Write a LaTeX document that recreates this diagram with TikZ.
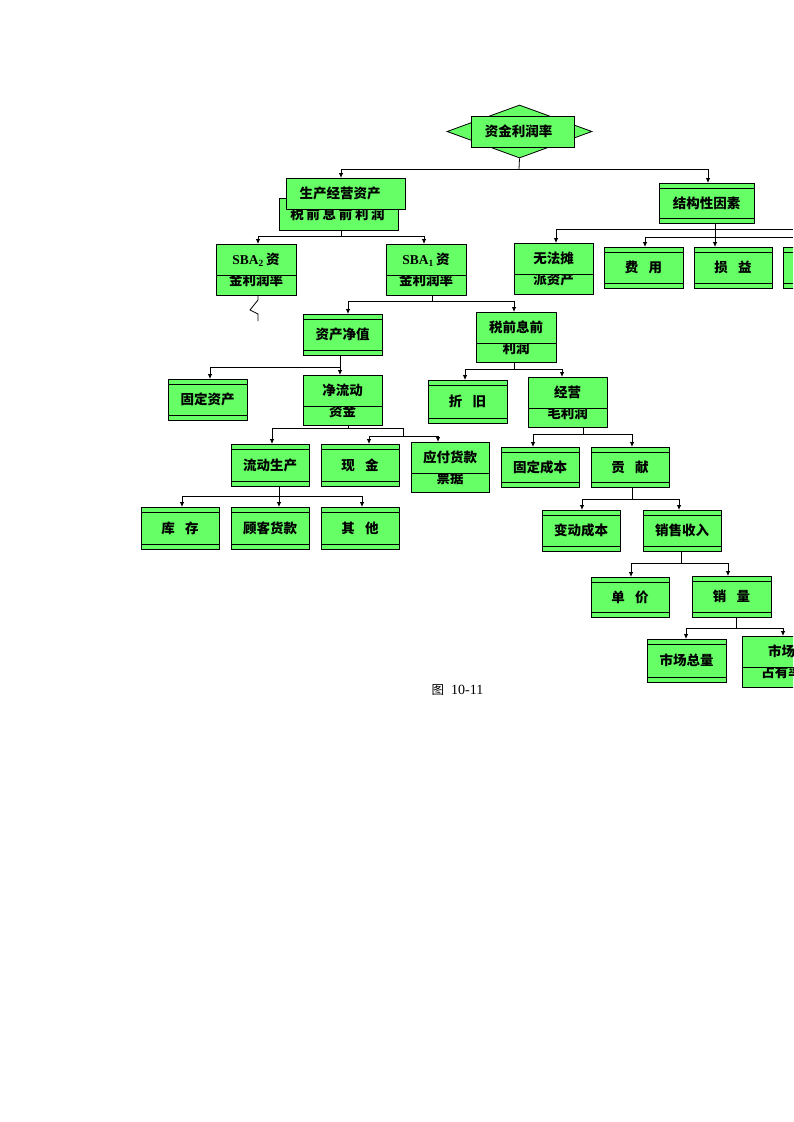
\documentclass[tikz,border=0pt]{standalone}
\usepackage{fontspec}
\newfontfamily\cjk{Noto Sans CJK SC}
\newfontfamily\tms{Liberation Serif}
\usetikzlibrary{shapes.geometric,arrows.meta}
\definecolor{boxgreen}{RGB}{102,255,102}
\tikzset{
  box/.style={draw=black,fill=boxgreen,line width=0.8pt,inner sep=0pt,outer sep=0pt,anchor=north west},
  txt/.style={font=\cjk\bfseries\fontsize{13.5}{15}\selectfont,inner sep=0pt},
  thinline/.style={draw=black,line width=0.8pt},
  bus/.style={draw=black,line width=0.8pt},
  arr/.style={draw=black,line width=0.8pt,-{Latex[length=5pt,width=4.5pt]}},
}
% name, x, y, w, h, text
\newcommand\bandbox[6]{%
  \node[box,minimum width=#4pt,minimum height=#5pt] (#1) at (#2,#3) {};
  \draw[thinline] ([yshift=-5pt]#1.north west) -- ([yshift=-5pt]#1.north east);
  \draw[thinline] ([yshift=5pt]#1.south west) -- ([yshift=5pt]#1.south east);
  \node[txt] (#1-t) at (#1.center) {#6};
}
% name, x, y, w, h, line1, line2
\newcommand\splitbox[7]{%
  \node[box,minimum width=#4pt,minimum height=#5pt] (#1) at (#2,#3) {};
  \node[txt] (#1-a) at ([yshift=-15.5pt]#1.north) {#6};
  \begin{scope}
    \clip ([yshift=-31pt]#1.north west) rectangle (#1.south east);
    \node[txt] (#1-b) at ([yshift=-36.5pt]#1.north) {#7};
  \end{scope}
  \draw[thinline] ([yshift=-31pt]#1.north west) -- ([yshift=-31pt]#1.north east);
}
\begin{document}
\begin{tikzpicture}[x=1pt,y=-1pt]
\useasboundingbox (0,0) rectangle (793,1122);
\clip (0,0) rectangle (793,1122);

% top
\node[draw=black,fill=boxgreen,line width=0.8pt,diamond,minimum width=145pt,minimum height=53pt,inner sep=0pt] (topd) at (519.5,131.5) {};
\node[box,minimum width=103pt,minimum height=31pt] (top) at (471,116) {};
\node[txt] (top-t) at ([xshift=-4pt]top.center) {资金利润率};

% level 1
\node[box,minimum width=119pt,minimum height=32pt] (ebit0) at (279,198) {};
\node[txt] (ebit0-t) at (337.5,214) {税\hspace{0.2em}前\hspace{0.2em}息\hspace{0.2em}前\hspace{0.2em}利\hspace{0.2em}润};
\node[box,minimum width=119pt,minimum height=31pt] (prod) at (286,178) {};
\node[txt] (prod-t) at (340,193) {生产经营资产};
\bandbox{struct}{659}{183}{95}{40}{结构性因素}

% level 2
\splitbox{sba2}{216}{244}{80}{51}{{\tms\bfseries SBA\textsubscript{2}}\,资}{金利润率}
\splitbox{sba1}{386}{244}{80}{51}{{\tms\bfseries SBA\textsubscript{1}}\,资}{金利润率}
\splitbox{wufa}{514}{243}{79}{51}{无法摊}{派资产}
\bandbox{feiyong}{604}{247}{79}{41}{费\hspace{0.75em}用}
\bandbox{sunyi}{694}{247}{78}{41}{损\hspace{0.75em}益}
\bandbox{unk}{783}{247}{79}{41}{}

% level 3
\bandbox{zcjz}{303}{314}{79}{41}{资产净值}
\splitbox{sqxq}{476}{312}{80}{50}{税前息前}{利润}

% level 4
\bandbox{gdzc}{168}{379}{79}{41}{固定资产}
\splitbox{jld}{303}{375}{79}{50}{净流动}{资金}
\bandbox{zj}{428}{380}{79}{43}{折\hspace{0.75em}旧}
\splitbox{jy}{528}{377}{79}{50}{经营}{毛利润}

% level 5
\bandbox{ldsc}{231}{444}{78}{42}{流动生产}
\bandbox{xj}{321}{444}{78}{42}{现\hspace{0.75em}金}
\splitbox{yfhk}{411}{442}{78}{50}{应付货款}{票据}
\bandbox{gdcb}{501}{447}{78}{40}{固定成本}
\bandbox{gx}{591}{447}{78}{40}{贡\hspace{0.75em}献}

% level 6
\bandbox{kc}{141}{507}{78}{42}{库\hspace{0.75em}存}
\bandbox{gkhk}{231}{507}{78}{42}{顾客货款}
\bandbox{qt}{321}{507}{78}{42}{其\hspace{0.75em}他}
\bandbox{bdcb}{542}{510}{78}{41}{变动成本}
\bandbox{xssr}{643}{510}{78}{41}{销售收入}

% level 7
\bandbox{dj}{591}{577}{78}{40}{单\hspace{0.75em}价}
\bandbox{xl}{692}{576}{79}{41}{销\hspace{0.75em}量}

% level 8
\bandbox{sczl}{647}{639}{79}{43}{市场总量}
\splitbox{sczy}{742}{636}{79}{51}{市场}{占有率}

% caption
\node[inner sep=0pt] (cap) at (457.5,690) {{\cjk\fontsize{12.5}{14}\selectfont 图}\hspace{7pt}{\tms\fontsize{14}{16}\selectfont 10-11}};

% connectors
% 1
\coordinate (j1) at (519,169);
\coordinate (j1a) at (341,169);
\coordinate (j1b) at (708,169);
\draw[bus] (topd.south) -- (j1);
\draw[bus] (j1a) -- (j1b);
\draw[arr] (j1a) -- (j1a |- prod.north);
\draw[arr] (j1b) -- (j1b |- struct.north);
% 2
\coordinate (j2) at (341,236);
\coordinate (j2a) at (258,236);
\coordinate (j2b) at (424,236);
\draw[bus] (j2 |- ebit0.south) -- (j2);
\draw[bus] (j2a) -- (j2b);
\draw[arr] (j2a) -- (j2a |- sba2.north);
\draw[arr] (j2b) -- (j2b |- sba1.north);
% 3 zigzag
\coordinate (z1) at (258,300);
\coordinate (z2) at (250,310);
\coordinate (z3) at (258,314);
\coordinate (z4) at (258,321);
\draw[bus] (z1 |- sba2.south) -- (z1) -- (z2) -- (z3) -- (z4);
% 4
\coordinate (j4) at (432,301);
\coordinate (j4a) at (348,301);
\coordinate (j4b) at (514,301);
\draw[bus] (j4 |- sba1.south) -- (j4);
\draw[bus] (j4a) -- (j4b);
\draw[arr] (j4a) -- (j4a |- zcjz.north);
\draw[arr] (j4b) -- (j4b |- sqxq.north);
% 5
\coordinate (j5a) at (210,367);
\coordinate (j5b) at (340,367);
\draw[bus] (j5b |- zcjz.south) -- (j5b);
\draw[bus] (j5a) -- (j5b);
\draw[arr] (j5a) -- (j5a |- gdzc.north);
\draw[arr] (j5b) -- (j5b |- jld.north);
% 6
\coordinate (j6) at (514,369);
\coordinate (j6a) at (465,369);
\coordinate (j6b) at (562,369);
\draw[bus] (j6 |- sqxq.south) -- (j6);
\draw[bus] (j6a) -- (j6b);
\draw[arr] (j6a) -- (j6a |- zj.north);
\draw[arr] (j6b) -- (j6b |- jy.north);
% 7
\coordinate (j7) at (348,428);
\coordinate (j7a) at (272,428);
\coordinate (j7b) at (403,428);
\coordinate (j7c) at (403,436);
\coordinate (j7d) at (369,436);
\coordinate (j7e) at (438,436);
\draw[bus] (j7 |- jld.south) -- (j7);
\draw[bus] (j7a) -- (j7b) -- (j7c);
\draw[bus] (j7d) -- (j7e);
\draw[arr] (j7a) -- (j7a |- ldsc.north);
\draw[arr] (j7d) -- (j7d |- xj.north);
\draw[arr] (j7e) -- (j7e |- yfhk.north);
% 8
\coordinate (j8a) at (182,496);
\coordinate (j8b) at (279,496);
\coordinate (j8c) at (362,496);
\draw[bus] (j8b |- ldsc.south) -- (j8b);
\draw[bus] (j8a) -- (j8c);
\draw[arr] (j8a) -- (j8a |- kc.north);
\draw[arr] (j8b) -- (j8b |- gkhk.north);
\draw[arr] (j8c) -- (j8c |- qt.north);
% 9
\coordinate (j9) at (583,434);
\coordinate (j9a) at (533,434);
\coordinate (j9b) at (632,434);
\draw[bus] (j9 |- jy.south) -- (j9);
\draw[bus] (j9a) -- (j9b);
\draw[arr] (j9a) -- (j9a |- gdcb.north);
\draw[arr] (j9b) -- (j9b |- gx.north);
% 10
\coordinate (j10) at (632,499);
\coordinate (j10a) at (582,499);
\coordinate (j10b) at (679,499);
\draw[bus] (j10 |- gx.south) -- (j10);
\draw[bus] (j10a) -- (j10b);
\draw[arr] (j10a) -- (j10a |- bdcb.north);
\draw[arr] (j10b) -- (j10b |- xssr.north);
% 11
\coordinate (j11) at (681,563);
\coordinate (j11a) at (631,563);
\coordinate (j11b) at (728,563);
\draw[bus] (j11 |- xssr.south) -- (j11);
\draw[bus] (j11a) -- (j11b);
\draw[arr] (j11a) -- (j11a |- dj.north);
\draw[arr] (j11b) -- (j11b |- xl.north);
% 12
\coordinate (j12) at (736,628);
\coordinate (j12a) at (686,628);
\coordinate (j12b) at (783,628);
\draw[bus] (j12 |- xl.south) -- (j12);
\draw[bus] (j12a) -- (j12b);
\draw[arr] (j12a) -- (j12a |- sczl.north);
\draw[arr] (j12b) -- (j12b |- sczy.north);
% 13 structural factors
\coordinate (j13) at (715,229);
\coordinate (j13a) at (556,229);
\coordinate (j13r) at (793,229);
\coordinate (j13b) at (645,237);
\coordinate (j13s) at (793,237);
\draw[bus] (j13a) -- (j13r);
\draw[bus] (j13b) -- (j13s);
\draw[arr] (j13 |- struct.south) -- (j13 |- sunyi.north);
\draw[arr] (j13a) -- (j13a |- wufa.north);
\draw[arr] (j13b) -- (j13b |- feiyong.north);
\end{tikzpicture}
\end{document}
